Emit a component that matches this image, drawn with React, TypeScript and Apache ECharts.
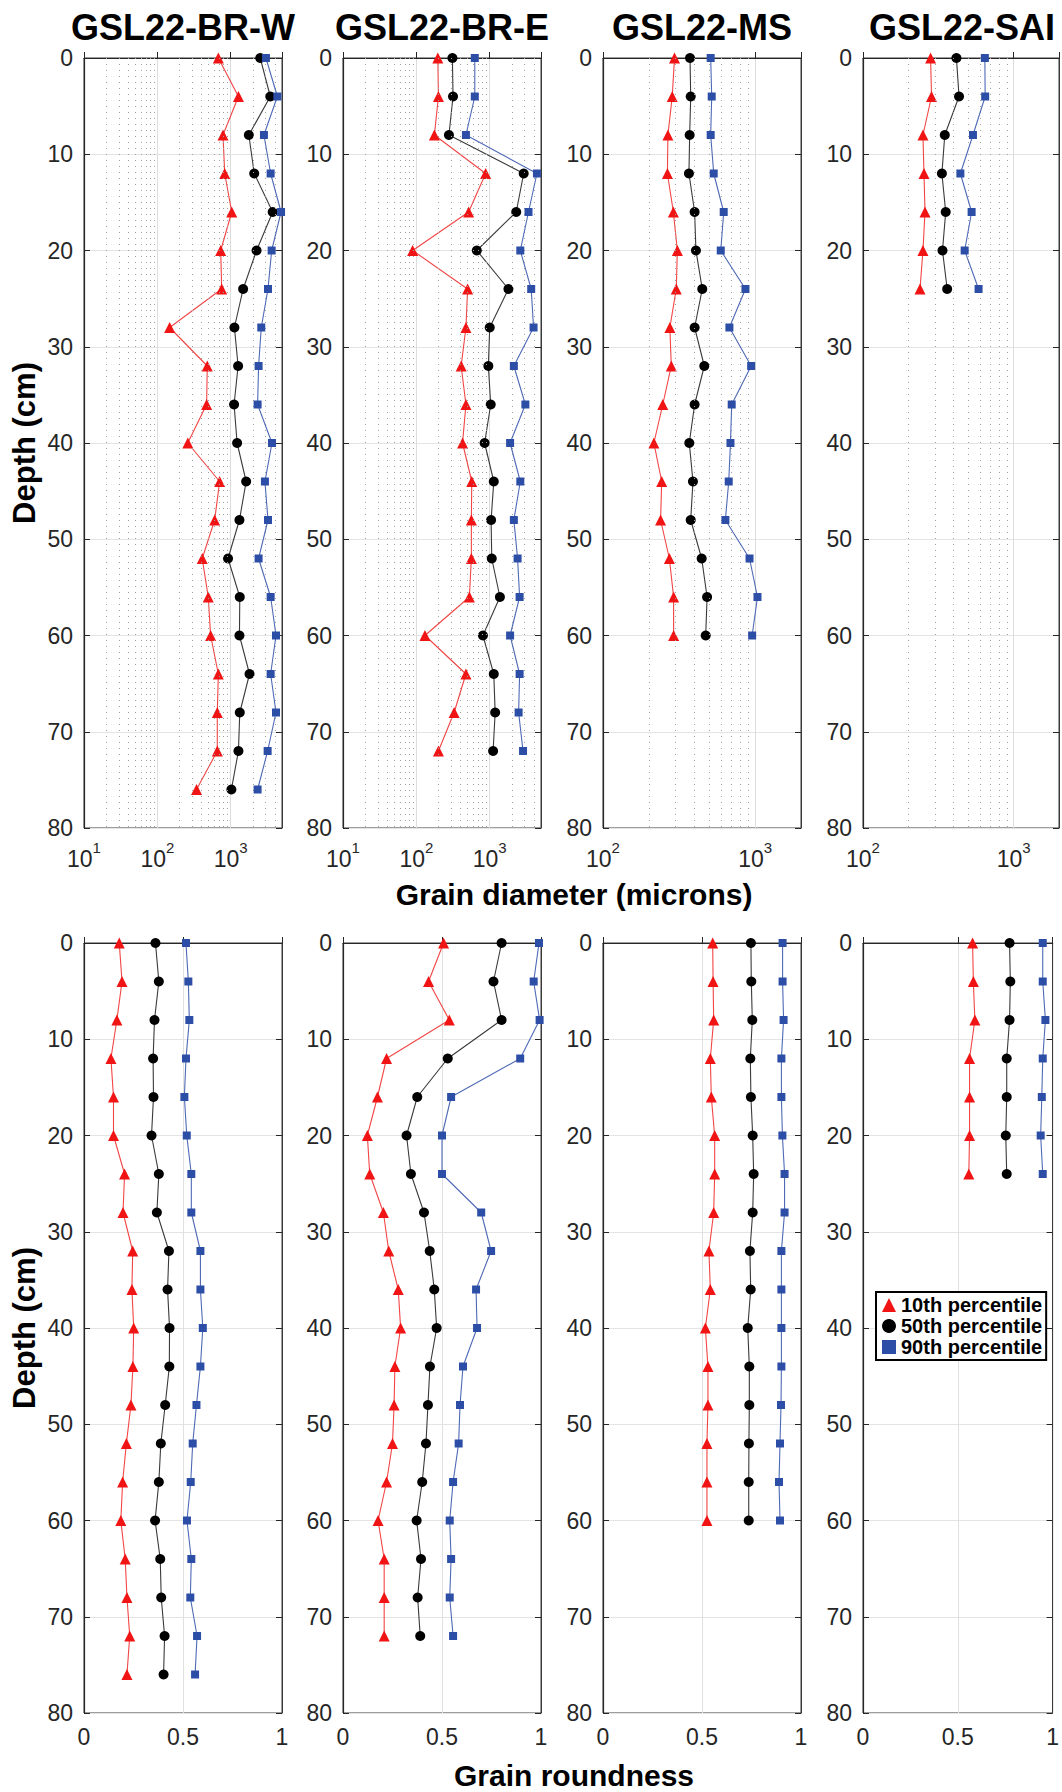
import React, { useEffect, useRef } from 'react';
import * as echarts from 'echarts';

// ---------------- DATA ----------------
const depthsW = [0, 4, 8, 12, 16, 20, 24, 28, 32, 36, 40, 44, 48, 52, 56, 60, 64, 68, 72, 76];
const depthsE = [0, 4, 8, 12, 16, 20, 24, 28, 32, 36, 40, 44, 48, 52, 56, 60, 64, 68, 72];
const depthsMS = [0, 4, 8, 12, 16, 20, 24, 28, 32, 36, 40, 44, 48, 52, 56, 60];
const depthsSAI = [0, 4, 8, 12, 16, 20, 24];

// Grain diameter (microns)
const dW10 = [678, 1274, 785, 828, 1032, 730, 753, 147, 479, 469, 260, 706, 604, 409, 494, 532, 678, 656, 656, 342];
const dW50 = [2525, 3464, 1766, 2091, 3733, 2250, 1476, 1123, 1261, 1111, 1222, 1623, 1315, 919, 1329, 1315, 1804, 1329, 1274, 1021];
const dW90 = [3020, 4325, 2836, 3500, 4854, 3613, 3221, 2609, 2398, 2324, 3650, 2925, 3221, 2398, 3500, 4143, 3500, 4143, 3186, 2324];

const dE10 = [196, 200, 176, 880, 516, 89, 500, 474, 408, 474, 426, 569, 562, 562, 528, 131, 474, 327, 200];
const dE50 = [310, 316, 278, 2904, 2297, 667, 1800, 1000, 958, 1032, 852, 1136, 1044, 1066, 1377, 808, 1136, 1186, 1112];
const dE90 = [626, 626, 474, 4402, 3377, 2611, 3675, 3958, 2133, 3062, 1896, 2611, 2133, 2397, 2555, 1896, 2555, 2476, 2845];

const dMS10 = [295, 285, 267, 265, 290, 308, 303, 275, 281, 247, 216, 243, 239, 273, 291, 291];
const dMS50 = [373, 377, 371, 367, 400, 408, 449, 400, 463, 400, 369, 390, 377, 445, 483, 473];
const dMS90 = [510, 518, 510, 534, 621, 594, 863, 677, 941, 701, 688, 670, 637, 918, 1035, 955];

const dSAI10 = [281, 285, 250, 254, 258, 250, 239];
const dSAI50 = [417, 434, 349, 334, 354, 337, 362];
const dSAI90 = [644, 647, 537, 443, 526, 473, 585];

// Grain roundness
const rW10 = [0.178, 0.192, 0.166, 0.136, 0.149, 0.149, 0.205, 0.197, 0.246, 0.242, 0.251, 0.247, 0.237, 0.214, 0.195, 0.186, 0.208, 0.217, 0.231, 0.217];
const rW50 = [0.361, 0.378, 0.356, 0.349, 0.351, 0.341, 0.378, 0.368, 0.429, 0.422, 0.432, 0.431, 0.41, 0.388, 0.378, 0.359, 0.385, 0.39, 0.407, 0.402];
const rW90 = [0.515, 0.527, 0.532, 0.515, 0.507, 0.519, 0.542, 0.542, 0.588, 0.588, 0.6, 0.588, 0.568, 0.549, 0.539, 0.52, 0.542, 0.537, 0.571, 0.561];

const rE10 = [0.508, 0.432, 0.537, 0.22, 0.174, 0.123, 0.135, 0.204, 0.231, 0.279, 0.291, 0.262, 0.258, 0.25, 0.22, 0.177, 0.208, 0.208, 0.208];
const rE50 = [0.801, 0.76, 0.801, 0.529, 0.375, 0.321, 0.343, 0.409, 0.438, 0.461, 0.473, 0.439, 0.429, 0.419, 0.4, 0.372, 0.394, 0.377, 0.39];
const rE90 = [0.99, 0.963, 0.993, 0.895, 0.546, 0.5, 0.5, 0.698, 0.748, 0.672, 0.677, 0.606, 0.591, 0.584, 0.556, 0.539, 0.546, 0.539, 0.556];

const rMS10 = [0.554, 0.556, 0.559, 0.542, 0.547, 0.564, 0.564, 0.559, 0.535, 0.542, 0.517, 0.53, 0.53, 0.525, 0.525, 0.525];
const rMS50 = [0.747, 0.749, 0.754, 0.744, 0.747, 0.756, 0.761, 0.756, 0.742, 0.746, 0.731, 0.739, 0.739, 0.737, 0.736, 0.736];
const rMS90 = [0.907, 0.907, 0.912, 0.901, 0.901, 0.906, 0.917, 0.917, 0.901, 0.901, 0.901, 0.901, 0.899, 0.894, 0.889, 0.894];

const rSAI10 = [0.578, 0.582, 0.59, 0.562, 0.562, 0.562, 0.558];
const rSAI50 = [0.773, 0.777, 0.773, 0.758, 0.758, 0.753, 0.758];
const rSAI90 = [0.948, 0.948, 0.962, 0.948, 0.943, 0.937, 0.948];

const siteNames = ['GSL22-BR-W', 'GSL22-BR-E', 'GSL22-MS', 'GSL22-SAI'];
const seriesNames = ['10th percentile', '50th percentile', '90th percentile'];
const depthTicks = [0, 10, 20, 30, 40, 50, 60, 70, 80];
const roundTicks = [0, 0.5, 1];
const minorWide = [20, 30, 40, 50, 60, 70, 80, 90, 200, 300, 400, 500, 600, 700, 800, 900, 2000, 3000, 4000];
const minorNarrow = [200, 300, 400, 500, 600, 700, 800, 900];

// ---------------- LAYOUT / STYLE ----------------
const FONT = '"Liberation Sans", Arial, Helvetica, sans-serif';
const AXIS_COLOR = '#262626';
const panelLefts = [84, 343, 603, 863];
const panelWidth = 198;
const topRowTop = 58;
const botRowTop = 943;
const rowHeight = 770;
const markerColors = ['#f01414', '#000000', '#2d4ea6'];
const lineColors = ['#f24545', '#3a3a3a', '#4e69b5'];
const symbols = ['triangle', 'circle', 'rect'];
const symbolSizes = [11, 10, 8];

const panels = [
  { depths: depthsW, diam: [dW10, dW50, dW90], round: [rW10, rW50, rW90], min: 10, max: 5000, minor: minorWide },
  { depths: depthsE, diam: [dE10, dE50, dE90], round: [rE10, rE50, rE90], min: 10, max: 5000, minor: minorWide },
  { depths: depthsMS, diam: [dMS10, dMS50, dMS90], round: [rMS10, rMS50, rMS90], min: 100, max: 2000, minor: minorNarrow },
  { depths: depthsSAI, diam: [dSAI10, dSAI50, dSAI90], round: [rSAI10, rSAI50, rSAI90], min: 100, max: 2000, minor: minorNarrow },
];

function buildOption() {
  const grid: any[] = [];
  const xAxis: any[] = [];
  const yAxis: any[] = [];
  const yAxisRight: any[] = [];
  const series: any[] = [];

  const yBase = (g: number, withName: boolean) => ({
    type: 'value',
    gridIndex: g,
    inverse: true,
    min: depthTicks[0],
    max: depthTicks[depthTicks.length - 1],
    interval: 10,
    name: withName ? 'Depth (cm)' : '',
    nameLocation: 'middle',
    nameGap: 44,
    nameTextStyle: { fontSize: 31, fontWeight: 'bold', color: '#000', fontFamily: FONT },
    axisLine: { show: true, lineStyle: { color: AXIS_COLOR, width: 1.2 } },
    axisTick: { show: true, inside: true, length: 6, lineStyle: { color: AXIS_COLOR } },
    axisLabel: { fontSize: 23, color: AXIS_COLOR, margin: 11, fontFamily: FONT },
    splitLine: { show: true, lineStyle: { color: '#e4e4e4', width: 1 } },
  });

  for (let row = 0; row < 2; row++) {
    for (let p = 0; p < 4; p++) {
      const g = row * 4 + p;
      const panel = panels[p];
      grid.push({
        left: panelLefts[p],
        top: row === 0 ? topRowTop : botRowTop,
        width: panelWidth,
        height: rowHeight,
        show: true,
        borderColor: '#3a3a3a',
        borderWidth: 1,
        backgroundColor: '#ffffff',
      });
      if (row === 0) {
        xAxis.push({
          type: 'log',
          logBase: 10,
          gridIndex: g,
          min: panel.min,
          max: panel.max,
          axisLine: { show: true, lineStyle: { color: AXIS_COLOR, width: 1.2 } },
          axisTick: { show: true, inside: true, length: 6, lineStyle: { color: AXIS_COLOR } },
          splitLine: { show: true, lineStyle: { color: '#dcdcdc', width: 1 } },
          axisLabel: {
            margin: 12,
            color: AXIS_COLOR,
            fontFamily: FONT,
            formatter: (v: number) => {
              const e = Math.log10(v);
              const r = Math.round(e);
              if (Math.abs(e - r) > 1e-6) return '';
              return '{b|10}{s|' + r + '}';
            },
            rich: {
              b: { fontSize: 23, lineHeight: 30, verticalAlign: 'bottom', color: AXIS_COLOR, fontFamily: FONT },
              s: { fontSize: 15, lineHeight: 15, verticalAlign: 'top', color: AXIS_COLOR, fontFamily: FONT },
            },
          },
        });
      } else {
        xAxis.push({
          type: 'value',
          gridIndex: g,
          min: roundTicks[0],
          max: roundTicks[roundTicks.length - 1],
          interval: 0.5,
          axisLine: { show: true, lineStyle: { color: AXIS_COLOR, width: 1.2 } },
          axisTick: { show: true, inside: true, length: 6, lineStyle: { color: AXIS_COLOR } },
          splitLine: { show: true, lineStyle: { color: '#e0e0e0', width: 1 } },
          axisLabel: { fontSize: 23, color: AXIS_COLOR, margin: 12, fontFamily: FONT },
        });
      }
      yAxis.push(yBase(g, p === 0));
      yAxisRight.push({
        type: 'value',
        gridIndex: g,
        position: 'right',
        inverse: true,
        min: 0,
        max: 80,
        interval: 10,
        axisLine: { show: true, lineStyle: { color: '#3a3a3a' } },
        axisTick: { show: true, inside: true, length: 6, lineStyle: { color: AXIS_COLOR } },
        axisLabel: { show: false },
        splitLine: { show: false },
      });

      if (row === 0) {
        series.push({
          type: 'line',
          xAxisIndex: g,
          yAxisIndex: g,
          data: [],
          silent: true,
          z: 1,
          markLine: {
            silent: true,
            symbol: 'none',
            label: { show: false },
            animation: false,
            lineStyle: { type: [1, 5], color: '#a0a0a0', width: 1 },
            data: panel.minor.map((v) => ({ xAxis: v })),
          },
        });
      }

      const vals = row === 0 ? panel.diam : panel.round;
      for (let k = 0; k < 3; k++) {
        series.push({
          name: seriesNames[k],
          type: 'line',
          xAxisIndex: g,
          yAxisIndex: g,
          clip: false,
          z: 3 + k,
          data: panel.depths.map((d, j) => [vals[k][j], d]),
          symbol: symbols[k],
          symbolSize: symbolSizes[k],
          showAllSymbol: true,
          lineStyle: { color: lineColors[k], width: 1.1 },
          itemStyle: { color: markerColors[k] },
          emphasis: { disabled: true },
        });
      }
    }
  }

  const allY = yAxis.concat(yAxisRight);

  const graphic: any[] = [];
  for (let p = 0; p < 4; p++) {
    graphic.push({
      type: 'text',
      x: panelLefts[p] + panelWidth / 2,
      y: 27,
      style: {
        text: siteNames[p],
        fontSize: 36,
        fontWeight: 'bold',
        fontFamily: FONT,
        fill: '#000',
        align: 'center',
        verticalAlign: 'middle',
      },
    });
  }
  graphic.push({
    type: 'text',
    x: 574,
    y: 894,
    style: {
      text: 'Grain diameter (microns)',
      fontSize: 30,
      fontWeight: 'bold',
      fontFamily: FONT,
      fill: '#000',
      align: 'center',
      verticalAlign: 'middle',
    },
  });
  graphic.push({
    type: 'text',
    x: 574,
    y: 1775,
    style: {
      text: 'Grain roundness',
      fontSize: 30,
      fontWeight: 'bold',
      fontFamily: FONT,
      fill: '#000',
      align: 'center',
      verticalAlign: 'middle',
    },
  });

  return {
    animation: false,
    backgroundColor: '#ffffff',
    textStyle: { fontFamily: FONT },
    grid,
    xAxis,
    yAxis: allY,
    series,
    graphic,
    legend: {
      orient: 'vertical',
      left: 876,
      top: 1292,
      selectedMode: false,
      backgroundColor: '#ffffff',
      borderColor: '#000',
      borderWidth: 2,
      padding: [3, 4, 3, 6],
      itemGap: 1,
      itemWidth: 14,
      itemHeight: 14,
      z: 10,
      textStyle: { fontSize: 20, fontWeight: 'bold', color: '#000', fontFamily: FONT, lineHeight: 20 },
      data: [
        { name: seriesNames[0], icon: 'triangle' },
        { name: seriesNames[1], icon: 'circle' },
        { name: seriesNames[2], icon: 'rect' },
      ],
    },
  };
}

export default function App() {
  const ref = useRef<HTMLDivElement>(null);
  useEffect(() => {
    document.body.style.margin = '0';
    if (!ref.current) return;
    const chart = echarts.init(ref.current, undefined, { renderer: 'svg' });
    chart.setOption(buildOption() as any);
    return () => {
      chart.dispose();
    };
  }, []);
  return <div ref={ref} style={{ width: 1062, height: 1792 }} />;
}
